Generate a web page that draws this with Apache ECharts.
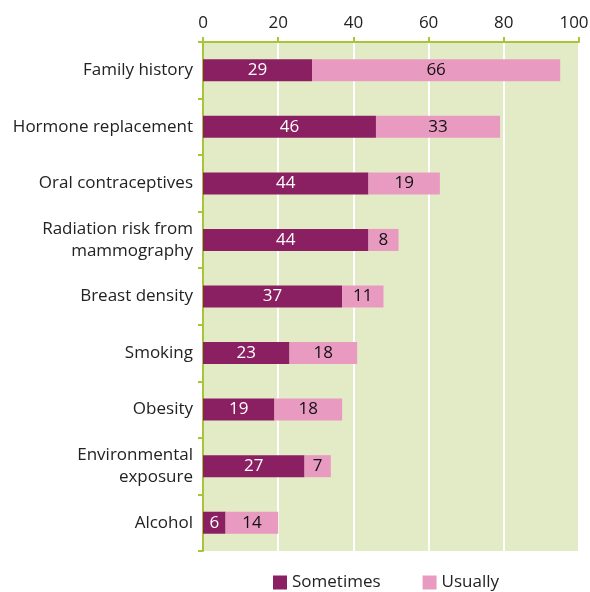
<!DOCTYPE html>
<html><head><meta charset="utf-8">
<script src="https://cdn.jsdelivr.net/npm/echarts@6/dist/echarts.min.js"></script>
<style>html,body{margin:0;padding:0;background:#fff}#c{width:590px;height:592px}</style>
</head><body><div id="c"></div>
<script>
const categories = ['Family history','Hormone replacement','Oral contraceptives','Radiation risk from\nmammography','Breast density','Smoking','Obesity','Environmental\nexposure','Alcohol'];
const sometimes = [29,46,44,44,37,23,19,27,6];
const usually = [66,33,19,8,11,18,18,7,14];
const xTicks = [0,20,40,60,80,100];

const FONT = '"Open Sans", sans-serif';
const chart = echarts.init(document.getElementById('c'));
chart.setOption({
  animation:false,
  textStyle:{fontFamily:FONT},
  grid:{left:203,right:11,top:42,bottom:41,show:true,backgroundColor:'#e3eac6',borderWidth:0,containLabel:false,outerBoundsMode:'none'},
  legend:{top:569,left:268,itemWidth:14,itemHeight:14,itemGap:42,icon:'rect',
    textStyle:{fontSize:17,color:'#222',fontFamily:FONT},data:['Sometimes','Usually']},
  xAxis:{type:'value',position:'top',min:xTicks[0],max:xTicks[xTicks.length-1],interval:20,
    axisLine:{show:true,lineStyle:{color:'#a8c43a',width:2}},
    axisTick:{show:true,length:5,lineStyle:{color:'#a8c43a',width:2}},
    axisLabel:{fontSize:17,color:'#222',margin:10,
      formatter:function(v){return v===xTicks[xTicks.length-1]?'{r|'+v+'}':String(v);},
      rich:{r:{fontSize:17,color:'#222',fontFamily:FONT,padding:[0,10,0,0]}}},
    splitLine:{show:true,lineStyle:{color:'#ffffff',width:2}}},
  yAxis:{type:'category',inverse:true,data:categories,
    axisLine:{show:true,lineStyle:{color:'#a8c43a',width:2}},
    axisTick:{show:true,length:5,lineStyle:{color:'#a8c43a',width:2}},
    axisLabel:{fontSize:17,color:'#222',margin:10,lineHeight:22,align:'right'}},
  series:[
    {name:'Sometimes',type:'bar',stack:'a',barWidth:22,data:sometimes,itemStyle:{color:'#8a1f62'},
     label:{show:true,position:'inside',color:'#fff',fontSize:17,fontFamily:FONT}},
    {name:'Usually',type:'bar',stack:'a',barWidth:22,data:usually,itemStyle:{color:'#e99ac1'},
     label:{show:true,position:'inside',color:'#111',fontSize:17,fontFamily:FONT}}
  ]
});
</script></body></html>
